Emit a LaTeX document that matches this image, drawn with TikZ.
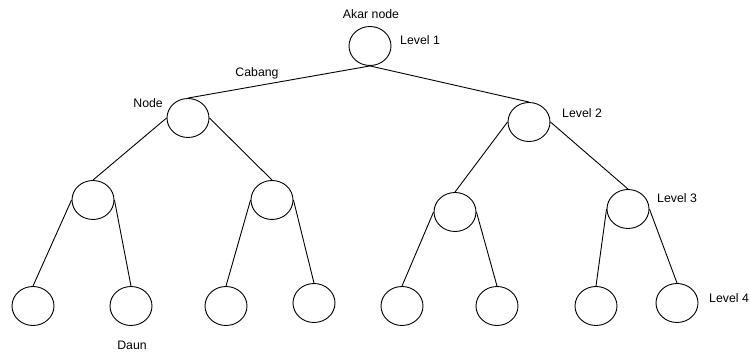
\documentclass[tikz,border=0pt]{standalone}
\usepackage{fontspec}
\setmainfont{Liberation Sans}
\usetikzlibrary{shapes.geometric}
\begin{document}
\begin{tikzpicture}[x=1pt,y=-1pt,
  tnode/.style={draw,ellipse,line width=0.9pt,minimum width=42pt,minimum height=39pt,inner sep=0pt},
  lbl/.style={font=\fontsize{12.3}{14}\selectfont,inner sep=0pt},
  edge/.style={line width=0.9pt}]
\useasboundingbox (0,0) rectangle (750,352);
% nodes
\node[tnode] (r) at (370,46) {};
\node[tnode] (a) at (188,118) {};
\node[tnode] (b) at (529,122) {};
\node[tnode] (a1) at (93,200) {};
\node[tnode] (a2) at (272,200) {};
\node[tnode] (b1) at (455,212) {};
\node[tnode] (b2) at (628,209) {};
\node[tnode] (l1) at (33,306) {};
\node[tnode] (l2) at (131,306) {};
\node[tnode] (l3) at (226,306) {};
\node[tnode] (l4) at (314,303) {};
\node[tnode] (l5) at (402,306) {};
\node[tnode] (l6) at (497,306) {};
\node[tnode] (l7) at (596,306) {};
\node[tnode] (l8) at (677,303) {};
% edges
\draw[edge] (r.south) -- (a.north);
\draw[edge] (r.south) -- (b.north);
\draw[edge] (a.west) -- (a1.north);
\draw[edge] (a.east) -- (a2.north);
\draw[edge] (b.west) -- (b1.north);
\draw[edge] (b.east) -- (b2.north);
\draw[edge] (a1.west) -- (l1.north);
\draw[edge] (a1.east) -- (l2.north);
\draw[edge] (a2.west) -- (l3.north);
\draw[edge] (a2.east) -- (l4.north);
\draw[edge] (b1.west) -- (l5.north);
\draw[edge] (b1.east) -- (l6.north);
\draw[edge] (b2.west) -- (l7.north);
\draw[edge] (b2.east) -- (l8.north);
% labels
\node[lbl] (takar) at (371,14) {Akar node};
\node[lbl,anchor=west] (tl1) at (400,40) {Level 1};
\node[lbl] (tcab) at (257,73) {Cabang};
\node[lbl,anchor=east] (tnode) at (163,103) {Node};
\node[lbl,anchor=west] (tl2) at (562,113) {Level 2};
\node[lbl,anchor=west] (tl3) at (657,198) {Level 3};
\node[lbl,anchor=west] (tl4) at (709,298) {Level 4};
\node[lbl] (tdaun) at (132,345) {Daun};
\end{tikzpicture}
\end{document}
